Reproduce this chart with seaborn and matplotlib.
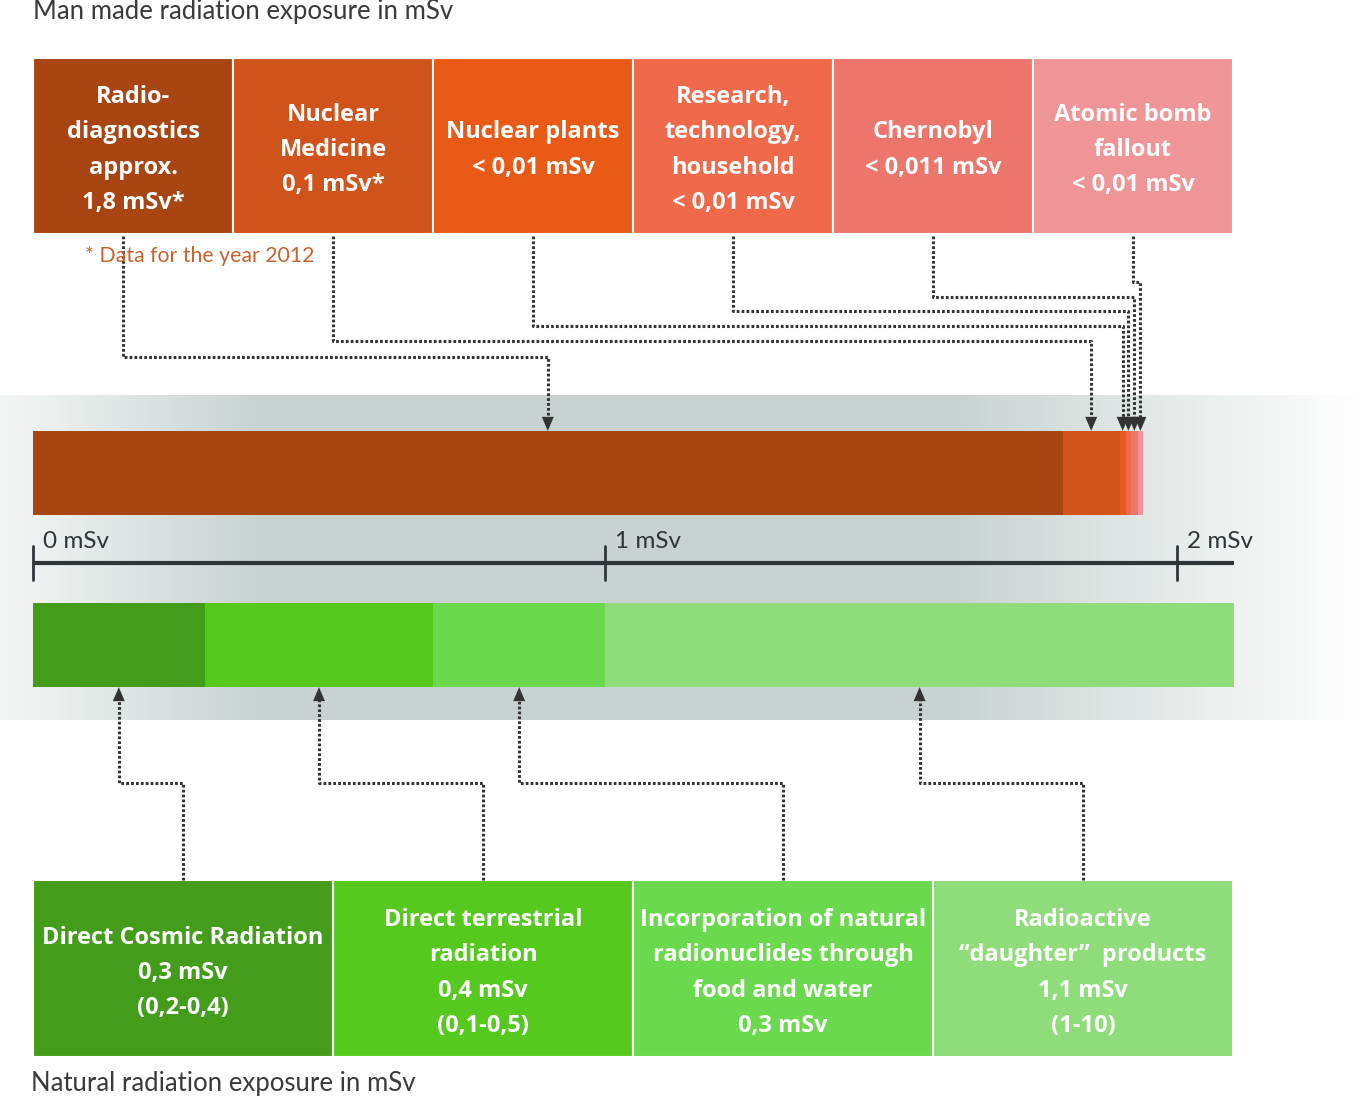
import numpy as np
import pandas as pd
import seaborn as sns
import matplotlib.pyplot as plt
from matplotlib.patches import Rectangle, Polygon

# ---- data ----
man_labels = ["Radio-\ndiagnostics\napprox.\n1,8 mSv*", "Nuclear\nMedicine\n0,1 mSv*",
              "Nuclear plants\n< 0,01 mSv", "Research,\ntechnology,\nhousehold\n< 0,01 mSv",
              "Chernobyl\n< 0,011 mSv", "Atomic bomb\nfallout\n< 0,01 mSv"]
man_values = [1.8, 0.1, 0.01, 0.01, 0.011, 0.01]
man_colors = ["#a84513", "#d0531b", "#ea5a17", "#f0694a", "#ec756c", "#ef9598"]

nat_labels = ["Direct Cosmic Radiation\n0,3 mSv\n(0,2-0,4)", "Direct terrestrial\nradiation\n0,4 mSv\n(0,1-0,5)",
              "Incorporation of natural\nradionuclides through\nfood and water\n0,3 mSv",
              "Radioactive\n\u201cdaughter\u201d  products\n1,1 mSv\n(1-10)"]
nat_values = [0.3, 0.4, 0.3, 1.1]
nat_colors = ["#439c1a", "#55c91e", "#6bd94e", "#8fdc7a"]

scale_ticks = [0, 1, 2]
groups = ["Man made", "Natural"]

W, H = 1358, 1097
X0, PX = 33, 572          # pixel of 0 mSv, pixels per mSv
BAR_C = [473, 645]        # bar centres (px)
BAR_W = 0.49

rows = []
for g, vals in zip(groups, [man_values, nat_values]):
    cum = np.cumsum(vals)
    for i, (v, e) in enumerate(zip(vals, cum)):
        rows.append({"group": g, "segment": f"{g}{i}", "end": e, "start": e - v})
df = pd.DataFrame(rows)
pal = dict(zip(df["segment"], man_colors + nat_colors))

sns.set_theme(style="white")
plt.rcParams["font.family"] = ["Lato", "DejaVu Sans"]
box_font = ["Open Sans", "DejaVu Sans"]

fig = plt.figure(figsize=(13.58, 10.97), dpi=100)

# background gradient band
ax_bg = fig.add_axes([0, 0, 1, 1], zorder=0)
ax_bg.set_xlim(0, W)
ax_bg.set_ylim(H, 0)
ax_bg.axis("off")
xs = np.arange(W)
grey = np.array([200, 211, 209]) / 255
t = np.ones(W)
t = np.where(xs < 260, 0.2 + 0.8 * xs / 260, t)
t = np.where(xs > 950, np.clip(1 - (xs - 950) / 410, 0, 1), t)
img = (1 - t[None, :, None]) * 1.0 + t[None, :, None] * grey[None, None, :]
ax_bg.imshow(img, extent=(0, W, 720, 395), aspect="auto")

# stacked bars
ax_bar = fig.add_axes([0, 0, 1, 1], zorder=1)
ax_bar.patch.set_alpha(0)
hue_order = list(df["segment"][::-1])
sns.barplot(data=df, x="end", y="group", hue="segment", hue_order=hue_order, order=groups,
            palette=pal, dodge=False, width=BAR_W, saturation=1, linewidth=0,
            errorbar=None, legend=False, ax=ax_bar)
ax_bar.set_xlim(-X0 / PX, (W - X0) / PX)
ax_bar.set_ylim((H - BAR_C[0]) / (BAR_C[1] - BAR_C[0]), -BAR_C[0] / (BAR_C[1] - BAR_C[0]))
ax_bar.axis("off")

# overlay: boxes, arrows, text
ax = fig.add_axes([0, 0, 1, 1], zorder=2)
ax.patch.set_alpha(0)
ax.set_xlim(0, W)
ax.set_ylim(H, 0)
ax.axis("off")

half = BAR_W * (BAR_C[1] - BAR_C[0]) / 2
dark = "#333333"
dot = dict(color=dark, lw=2.2, linestyle=(0, (0.9, 0.7)), solid_capstyle="butt")


def arrow(path, down=True):
    xs_, ys_ = zip(*path)
    tip_x, tip_y = path[-1]
    sgn = -1 if down else 1
    ys_ = list(ys_)
    ys_[-1] = tip_y + sgn * 12
    ax.plot(xs_, ys_, **dot)
    ax.add_patch(Polygon([(tip_x, tip_y), (tip_x - 6, tip_y + sgn * 14), (tip_x + 6, tip_y + sgn * 14)],
                         closed=True, color=dark, lw=0))


# top boxes
bw = 200
levels = [357, 341, 326, 311, 297, 282]
starts = np.cumsum([0] + man_values[:-1])
for i, (lab, v, c) in enumerate(zip(man_labels, man_values, man_colors)):
    left = X0 + i * bw
    ax.add_patch(Rectangle((left, 58), bw, 176, facecolor=c, edgecolor="white", lw=1.5))
    ax.text(left + bw / 2, 150, lab, ha="center", va="center", color="white", family=box_font,
            fontsize=17, fontweight="bold", linespacing=1.62)
    sx = left + bw / 2 - (10 if i == 0 else 0)
    tx = X0 + PX * (starts[i] + v / 2)
    arrow([(sx, 236), (sx, levels[i]), (tx, levels[i]), (tx, BAR_C[0] - half)], down=True)

# bottom boxes
bw2 = 300
nstarts = np.cumsum([0] + nat_values[:-1])
for i, (lab, v, c) in enumerate(zip(nat_labels, nat_values, nat_colors)):
    left = X0 + i * bw2
    ax.add_patch(Rectangle((left, 880), bw2, 177, facecolor=c, edgecolor="white", lw=1.5))
    ax.text(left + bw2 / 2, 973, lab, ha="center", va="center", color="white", family=box_font,
            fontsize=17, fontweight="bold", linespacing=1.62)
    sx = left + bw2 / 2
    tx = X0 + PX * (nstarts[i] + v / 2)
    arrow([(sx, 880), (sx, 783), (tx, 783), (tx, BAR_C[1] + half)], down=False)

# scale
ax.plot([X0, X0 + PX * 2.1], [563, 563], color="#2f3538", lw=3, solid_capstyle="butt")
for tk in scale_ticks:
    px = X0 + PX * tk
    ax.plot([px, px], [546, 580], color="#2f3538", lw=2)
    ax.text(px + 10, 541, f"{tk} mSv", ha="left", va="center", fontsize=17.5, color="#2f3538")

ax.text(33, 12, "Man made radiation exposure in mSv", ha="left", va="center", fontsize=18.5, color="#3a3a3a")
ax.text(31, 1084, "Natural radiation exposure in mSv", ha="left", va="center", fontsize=18.5, color="#3a3a3a")
ax.text(85, 256, "* Data for the year 2012", ha="left", va="center", fontsize=15.3, color="#c8622f")

fig.savefig("out.png", dpi=100)
